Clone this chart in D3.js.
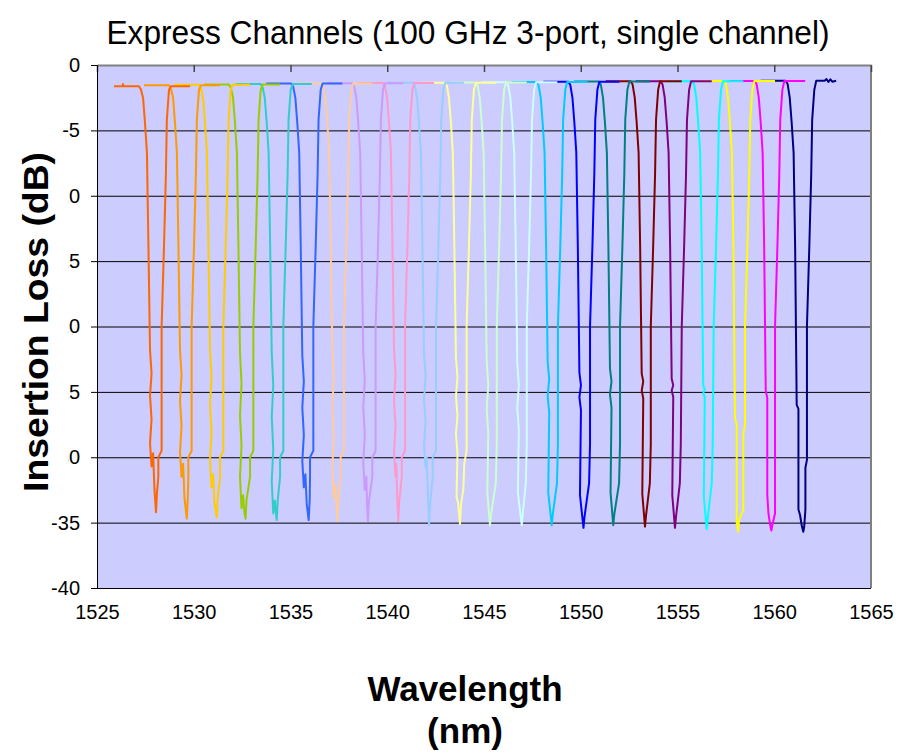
<!DOCTYPE html>
<html>
<head>
<meta charset="utf-8">
<script src="https://cdn.jsdelivr.net/npm/d3@7"></script>
<style>
body { margin: 0; background: #fff; }
text { font-family: "Liberation Sans", Arial, sans-serif; fill: #000; }
</style>
</head>
<body>
<div id="chart"></div>
<script>
// chart texts and ticks
var chartTitle = "Express Channels (100 GHz 3-port, single channel)";
var yTitle = "Insertion Loss (dB)";
var xTitle = ["Wavelength", "(nm)"];
var xTicks = [1525, 1530, 1535, 1540, 1545, 1550, 1555, 1560, 1565];
var yTicks = [0, -5, -10, -15, -20, -25, -30, -35, -40];

// one trace per express channel: [wavelength nm, insertion loss dB]
var ch01 = [[1525.88,-1.62],[1526.34,-1.62],[1526.34,-1.45],[1526.36,-1.62],[1527.17,-1.62],[1527.27,-1.87],[1527.38,-2.5],[1527.48,-4.4],[1527.58,-6.7],[1527.66,-14],[1527.74,-21.8],[1527.82,-23.6],[1527.74,-25.3],[1527.82,-27.1],[1527.74,-28.9],[1527.82,-30.7],[1527.90,-29.7],[1527.97,-32.5],[1528.05,-34.2],[1528.10,-32.7],[1528.17,-31.5],[1528.17,-30],[1528.34,-29.5],[1528.34,-20],[1528.46,-14],[1528.56,-8.4],[1528.61,-4.2],[1528.72,-1.9],[1528.82,-1.62],[1529.81,-1.62]];
var ch02 = [[1527.43,-1.55],[1528.72,-1.55],[1528.82,-1.8],[1528.93,-2.5],[1529.03,-4.4],[1529.13,-6.7],[1529.21,-14],[1529.29,-21.8],[1529.37,-23.7],[1529.29,-25.7],[1529.37,-27.6],[1529.29,-29.6],[1529.37,-31.5],[1529.45,-30.5],[1529.52,-33.1],[1529.64,-34.7],[1529.69,-33.2],[1529.72,-31.5],[1529.72,-30],[1529.89,-29.5],[1529.89,-20],[1530.01,-14],[1530.11,-8.4],[1530.16,-4.2],[1530.27,-1.9],[1530.37,-1.55],[1531.36,-1.55]];
var ch03 = [[1528.98,-1.52],[1530.27,-1.52],[1530.37,-1.77],[1530.48,-2.5],[1530.58,-4.4],[1530.68,-6.7],[1530.76,-14],[1530.84,-21.8],[1530.92,-23.9],[1530.84,-26.0],[1530.92,-28.1],[1530.84,-30.2],[1530.92,-32.3],[1531.00,-31.3],[1531.07,-33.5],[1531.19,-34.6],[1531.24,-33.1],[1531.36,-31.5],[1531.36,-30],[1531.53,-29.5],[1531.53,-20],[1531.65,-14],[1531.75,-8.4],[1531.80,-4.2],[1531.91,-1.9],[1532.01,-1.52],[1532.91,-1.52]];
var ch04 = [[1530.53,-1.5],[1531.82,-1.5],[1531.92,-1.75],[1532.03,-2.5],[1532.13,-4.4],[1532.23,-6.7],[1532.31,-14],[1532.39,-22],[1532.47,-24.4],[1532.39,-26.8],[1532.47,-29.1],[1532.39,-31.5],[1532.47,-33.9],[1532.55,-32.9],[1532.62,-34.3],[1532.68,-34.7],[1532.73,-33.2],[1532.91,-31.5],[1532.91,-30],[1533.08,-29.5],[1533.08,-20],[1533.20,-14],[1533.30,-8.4],[1533.35,-4.2],[1533.46,-1.9],[1533.56,-1.5],[1534.46,-1.5]];
var ch05 = [[1532.17,-1.45],[1533.46,-1.45],[1533.56,-1.7],[1533.67,-2.5],[1533.77,-4.4],[1533.87,-6.7],[1533.95,-14],[1534.03,-22],[1534.11,-24.5],[1534.03,-26.9],[1534.11,-29.4],[1534.03,-31.8],[1534.11,-34.3],[1534.19,-33.3],[1534.26,-34.5],[1534.29,-34.8],[1534.34,-33.3],[1534.46,-31.5],[1534.46,-30],[1534.63,-29.5],[1534.63,-20],[1534.75,-14],[1534.85,-8.4],[1534.90,-4.2],[1535.01,-1.9],[1535.11,-1.45],[1536.10,-1.45]];
var ch06 = [[1533.75,-1.42],[1535.04,-1.42],[1535.14,-1.67],[1535.25,-2.5],[1535.35,-4.4],[1535.45,-6.7],[1535.53,-14],[1535.61,-22.2],[1535.69,-24.2],[1535.61,-26.2],[1535.69,-28.3],[1535.61,-30.3],[1535.69,-32.3],[1535.77,-31.3],[1535.84,-33.6],[1535.94,-34.8],[1535.99,-33.3],[1536.01,-31.5],[1536.01,-30],[1536.18,-29.5],[1536.18,-20],[1536.30,-14],[1536.40,-8.4],[1536.45,-4.2],[1536.56,-1.9],[1536.66,-1.42],[1537.68,-1.42]];
var ch07 = [[1535.30,-1.42],[1536.59,-1.42],[1536.69,-1.67],[1536.80,-2.5],[1536.90,-4.4],[1537.00,-6.7],[1537.08,-14],[1537.16,-21.6],[1537.24,-23.9],[1537.16,-26.2],[1537.24,-28.5],[1537.16,-30.8],[1537.24,-33.1],[1537.32,-32.1],[1537.39,-34.0],[1537.42,-34.9],[1537.47,-33.4],[1537.59,-31.5],[1537.59,-30],[1537.76,-29.5],[1537.76,-20],[1537.88,-14],[1537.98,-8.4],[1538.03,-4.2],[1538.14,-1.9],[1538.24,-1.42],[1539.23,-1.42]];
var ch08 = [[1536.90,-1.4],[1538.19,-1.4],[1538.29,-1.65],[1538.40,-2.5],[1538.50,-4.4],[1538.60,-6.7],[1538.68,-14],[1538.76,-22],[1538.84,-24.1],[1538.76,-26.2],[1538.84,-28.3],[1538.76,-30.4],[1538.84,-32.5],[1538.92,-31.5],[1538.96,-33.7],[1539.00,-34.9],[1539.05,-33.4],[1539.23,-31.5],[1539.23,-30],[1539.40,-29.5],[1539.40,-20],[1539.52,-14],[1539.62,-8.4],[1539.67,-4.2],[1539.78,-1.9],[1539.88,-1.4],[1540.83,-1.4]];
var ch09 = [[1538.49,-1.38],[1539.78,-1.38],[1539.88,-1.63],[1539.99,-2.5],[1540.09,-4.4],[1540.19,-6.7],[1540.27,-14],[1540.35,-21.8],[1540.43,-23.7],[1540.35,-25.7],[1540.43,-27.6],[1540.35,-29.6],[1540.43,-31.5],[1540.47,-30.5],[1540.52,-33.2],[1540.57,-34.9],[1540.62,-33.4],[1540.75,-31.5],[1540.75,-30],[1540.92,-29.5],[1540.92,-20],[1541.04,-14],[1541.14,-8.4],[1541.19,-4.2],[1541.30,-1.9],[1541.40,-1.38],[1542.42,-1.38]];
var ch10 = [[1540.04,-1.36],[1541.33,-1.36],[1541.43,-1.61],[1541.54,-2.5],[1541.64,-4.4],[1541.74,-6.7],[1541.82,-14],[1541.90,-22.1],[1541.98,-23.8],[1541.90,-25.6],[1541.98,-27.3],[1541.90,-29.1],[1541.98,-30.8],[1542.04,-30.0],[1542.10,-32.8],[1542.16,-35.2],[1542.21,-33.7],[1542.35,-31.5],[1542.35,-30],[1542.52,-29.5],[1542.52,-20],[1542.64,-14],[1542.74,-8.4],[1542.79,-4.2],[1542.90,-1.9],[1543.00,-1.36],[1543.97,-1.36]];
var ch11 = [[1541.69,-1.35],[1542.98,-1.35],[1543.08,-1.6],[1543.19,-2.5],[1543.29,-4.4],[1543.39,-6.7],[1543.47,-14],[1543.55,-22.4],[1543.63,-23.9],[1543.55,-25.3],[1543.63,-26.8],[1543.55,-28.2],[1543.63,-29.7],[1543.58,-33.0],[1543.66,-33.5],[1543.76,-35.1],[1543.81,-33.6],[1543.93,-32.5],[1543.98,-30.5],[1544.10,-29.5],[1544.10,-20],[1544.22,-14],[1544.32,-8.4],[1544.37,-4.2],[1544.48,-1.9],[1544.58,-1.35],[1545.62,-1.35]];
var ch12 = [[1543.28,-1.33],[1544.57,-1.33],[1544.67,-1.58],[1544.78,-2.5],[1544.88,-4.4],[1544.98,-6.7],[1545.06,-14],[1545.14,-22.6],[1545.22,-24.5],[1545.14,-26.3],[1545.22,-28.2],[1545.17,-32.7],[1545.31,-35.2],[1545.36,-34.4],[1545.61,-32],[1545.66,-29],[1545.66,-20],[1545.78,-14],[1545.88,-8.4],[1545.93,-4.2],[1546.04,-1.9],[1546.14,-1.33],[1547.21,-1.33]];
var ch13 = [[1544.86,-1.32],[1546.15,-1.32],[1546.25,-1.57],[1546.36,-2.5],[1546.46,-4.4],[1546.56,-6.7],[1546.64,-14],[1546.72,-22.8],[1546.80,-24.5],[1546.72,-26.2],[1546.80,-27.9],[1546.75,-32.7],[1546.95,-35.2],[1547.00,-34.4],[1547.16,-32],[1547.21,-29],[1547.21,-20],[1547.33,-14],[1547.43,-8.4],[1547.48,-4.2],[1547.59,-1.9],[1547.69,-1.32],[1548.79,-1.32]];
var ch14 = [[1546.43,-1.3],[1547.72,-1.3],[1547.82,-1.55],[1547.93,-2.5],[1548.03,-4.4],[1548.13,-6.7],[1548.21,-14],[1548.29,-22.7],[1548.37,-24.0],[1548.29,-25.3],[1548.37,-26.6],[1548.32,-32.7],[1548.50,-35.2],[1548.55,-34.4],[1548.77,-32],[1548.82,-29],[1548.82,-20],[1548.94,-14],[1549.04,-8.4],[1549.09,-4.2],[1549.20,-1.9],[1549.30,-1.3],[1550.36,-1.3]];
var ch15 = [[1548.07,-1.28],[1549.36,-1.28],[1549.46,-1.53],[1549.57,-2.5],[1549.67,-4.4],[1549.77,-6.7],[1549.85,-14],[1549.93,-23.5],[1550.01,-24.5],[1549.93,-25.4],[1550.01,-26.4],[1549.96,-32.9],[1550.14,-35.4],[1550.19,-34.6],[1550.43,-32],[1550.48,-29],[1550.48,-20],[1550.60,-14],[1550.70,-8.4],[1550.75,-4.2],[1550.86,-1.9],[1550.96,-1.28],[1552.00,-1.28]];
var ch16 = [[1549.65,-1.27],[1550.94,-1.27],[1551.04,-1.52],[1551.15,-2.5],[1551.25,-4.4],[1551.35,-6.7],[1551.43,-14],[1551.51,-23.2],[1551.59,-24.2],[1551.51,-25.2],[1551.59,-26.2],[1551.54,-32.7],[1551.68,-35.2],[1551.73,-34.4],[1551.98,-32],[1552.03,-29],[1552.03,-20],[1552.15,-14],[1552.25,-8.4],[1552.30,-4.2],[1552.41,-1.9],[1552.51,-1.27],[1553.58,-1.27]];
var ch17 = [[1551.29,-1.25],[1552.58,-1.25],[1552.68,-1.5],[1552.79,-2.5],[1552.89,-4.4],[1552.99,-6.7],[1553.07,-14],[1553.15,-23.6],[1553.23,-24.2],[1553.15,-24.9],[1553.23,-25.5],[1553.18,-32.8],[1553.32,-35.3],[1553.37,-34.5],[1553.57,-32],[1553.62,-29],[1553.62,-20],[1553.74,-14],[1553.84,-8.4],[1553.89,-4.2],[1554.00,-1.9],[1554.10,-1.25],[1555.22,-1.25]];
var ch18 = [[1552.84,-1.25],[1554.13,-1.25],[1554.23,-1.5],[1554.34,-2.5],[1554.44,-4.4],[1554.54,-6.7],[1554.62,-14],[1554.70,-24],[1554.78,-24.5],[1554.70,-24.9],[1554.78,-25.4],[1554.73,-32.9],[1554.87,-35.4],[1554.92,-34.6],[1555.12,-32],[1555.17,-29],[1555.22,-20],[1555.34,-14],[1555.44,-8.4],[1555.49,-4.2],[1555.60,-1.9],[1555.70,-1.25],[1556.77,-1.25]];
var ch19 = [[1554.47,-1.24],[1555.76,-1.24],[1555.86,-1.49],[1555.97,-2.5],[1556.07,-4.4],[1556.17,-6.7],[1556.25,-14],[1556.33,-24.5],[1556.41,-24.8],[1556.33,-25.1],[1556.41,-25.4],[1556.36,-33.0],[1556.51,-35.5],[1556.56,-34.7],[1556.77,-32],[1556.82,-29],[1556.87,-20],[1556.99,-14],[1557.09,-8.4],[1557.14,-4.2],[1557.25,-1.9],[1557.35,-1.24],[1558.40,-1.24]];
var ch20 = [[1556.11,-1.22],[1557.40,-1.22],[1557.50,-1.47],[1557.61,-2.5],[1557.71,-4.4],[1557.81,-6.7],[1557.89,-14],[1557.97,-27],[1558.06,-27.5],[1558.06,-35.0],[1558.13,-35.7],[1558.18,-34.8],[1558.40,-34.0],[1558.40,-28.2],[1558.49,-27.5],[1558.49,-20],[1558.61,-14],[1558.71,-8.4],[1558.76,-4.2],[1558.87,-1.9],[1558.97,-1.22],[1560.04,-1.22]];
var ch21 = [[1557.70,-1.22],[1558.99,-1.22],[1559.09,-1.47],[1559.20,-2.5],[1559.30,-4.4],[1559.40,-6.7],[1559.48,-14],[1559.56,-24.9],[1559.64,-25.5],[1559.64,-32.9],[1559.70,-34.3],[1559.78,-35.1],[1559.85,-35.6],[1559.90,-35.2],[1560.04,-34.3],[1560.04,-20],[1560.16,-14],[1560.26,-8.4],[1560.31,-4.2],[1560.42,-1.9],[1560.52,-1.22],[1561.60,-1.22]];
var ch22 = [[1559.30,-1.2],[1560.59,-1.2],[1560.69,-1.45],[1560.80,-2.5],[1560.90,-4.4],[1561.00,-6.7],[1561.08,-14],[1561.16,-26.0],[1561.25,-26.3],[1561.25,-34.0],[1561.33,-34.4],[1561.42,-35.2],[1561.50,-35.7],[1561.55,-35.3],[1561.61,-34.0],[1561.61,-30.8],[1561.69,-30.2],[1561.69,-20],[1561.81,-14],[1561.91,-8.4],[1561.96,-4.2],[1562.07,-1.9],[1562.17,-1.2],[1562.60,-1.2],[1562.70,-1.08],[1562.80,-1.3],[1562.90,-1.1],[1563.00,-1.28],[1563.20,-1.2]];

// Excel order: series 1 (navy) is the longest wavelength, drawn first
var channels = [ch22, ch21, ch20, ch19, ch18, ch17, ch16, ch15, ch14, ch13, ch12,
                ch11, ch10, ch09, ch08, ch07, ch06, ch05, ch04, ch03, ch02, ch01];
var colors = ["#000080", "#FF00FF", "#FFFF00", "#00FFFF", "#800080", "#800000", "#008080", "#0000FF",
              "#00CCFF", "#CCFFFF", "#CCFFCC", "#FFFF99", "#99CCFF", "#FF99CC", "#CC99FF", "#FFCC99",
              "#3366FF", "#33CCCC", "#99CC00", "#FFCC00", "#FF9900", "#FF6600"];

var svgWidth = 918;
var svgHeight = 753;
var margin = {top: 65, right: 47, bottom: 165, left: 97};
var width = svgWidth - margin.left - margin.right;
var height = svgHeight - margin.top - margin.bottom;

var svg = d3.select("#chart")
    .append("svg")
    .attr("width", svgWidth)
    .attr("height", svgHeight);

svg.append("rect").attr("width", svgWidth).attr("height", svgHeight).attr("fill", "#fff");

var chartGroup = svg.append("g")
    .attr("transform", `translate(${margin.left}, ${margin.top})`);

var x = d3.scaleLinear().domain([1525, 1565]).range([0, width]);
var y = d3.scaleLinear().domain([-40, 0]).range([height, 0]);

// plot area
chartGroup.append("rect")
    .attr("width", width)
    .attr("height", height)
    .attr("fill", "#CCCCFF");

// gridlines
var grid = chartGroup.append("g")
    .call(d3.axisLeft(y).tickValues(yTicks).tickSize(-width).tickFormat(""));
grid.select(".domain").remove();
grid.selectAll("line").attr("stroke", "#000").attr("stroke-width", 1);

// traces
var line = d3.line().x(d => x(d[0])).y(d => y(d[1]));
chartGroup.selectAll(".trace")
    .data(channels)
    .enter()
    .append("path")
    .attr("class", "trace")
    .attr("d", line)
    .attr("fill", "none")
    .attr("stroke", (d, i) => colors[i])
    .attr("stroke-width", 2)
    .attr("stroke-linejoin", "round");

// plot border (top and right are grey)
chartGroup.append("line")
    .attr("x1", width).attr("x2", width).attr("y1", 0).attr("y2", height)
    .attr("stroke", "#808080").attr("stroke-width", 2);

// x axis sits at y = 0, i.e. along the top; ticks point down
var topAxis = chartGroup.append("g")
    .call(d3.axisBottom(x).tickValues(xTicks).tickSize(7).tickSizeOuter(0).tickFormat(""));
topAxis.select(".domain").attr("stroke", "#808080").attr("stroke-width", 2);
topAxis.selectAll("line").attr("stroke", "#444").attr("stroke-width", 1.5);

// x tick labels drawn low, under the plot
var xLabels = chartGroup.append("g")
    .attr("transform", `translate(0, ${height})`)
    .call(d3.axisBottom(x).tickValues(xTicks).tickSize(0).tickPadding(17).tickFormat(d => String(d)));
xLabels.select(".domain").remove();
xLabels.selectAll("text").attr("font-size", "20px").attr("font-family", "Liberation Sans, Arial, sans-serif");

// y axis, plain hyphen minus like the original
var leftAxis = chartGroup.append("g")
    .call(d3.axisLeft(y).tickValues(yTicks).tickSize(6).tickSizeOuter(0).tickPadding(11).tickFormat(d => String(d)));
leftAxis.select(".domain").attr("stroke", "#000");
leftAxis.selectAll("line").attr("stroke", "#000");
leftAxis.selectAll("text").attr("font-size", "20px").attr("font-family", "Liberation Sans, Arial, sans-serif");

// chart title
svg.append("text")
    .attr("x", 468)
    .attr("y", 44)
    .attr("text-anchor", "middle")
    .attr("font-size", "33px")
    .attr("textLength", 723)
    .attr("lengthAdjust", "spacingAndGlyphs")
    .text(chartTitle);

// y axis title on a white box that hides part of the tick labels
svg.append("rect")
    .attr("x", 14).attr("y", 148)
    .attr("width", 54).attr("height", 364)
    .attr("fill", "#fff");
svg.append("text")
    .attr("transform", "translate(48, 322) rotate(-90)")
    .attr("text-anchor", "middle")
    .attr("font-size", "35px")
    .attr("font-weight", "bold")
    .attr("textLength", 340)
    .attr("lengthAdjust", "spacingAndGlyphs")
    .text(yTitle);

// x axis title
svg.selectAll(".xTitle")
    .data(xTitle)
    .enter()
    .append("text")
    .attr("class", "xTitle")
    .attr("x", 465)
    .attr("y", (d, i) => 701 + i * 42)
    .attr("text-anchor", "middle")
    .attr("font-size", "35px")
    .attr("font-weight", "bold")
    .text(d => d);
</script>
</body>
</html>
